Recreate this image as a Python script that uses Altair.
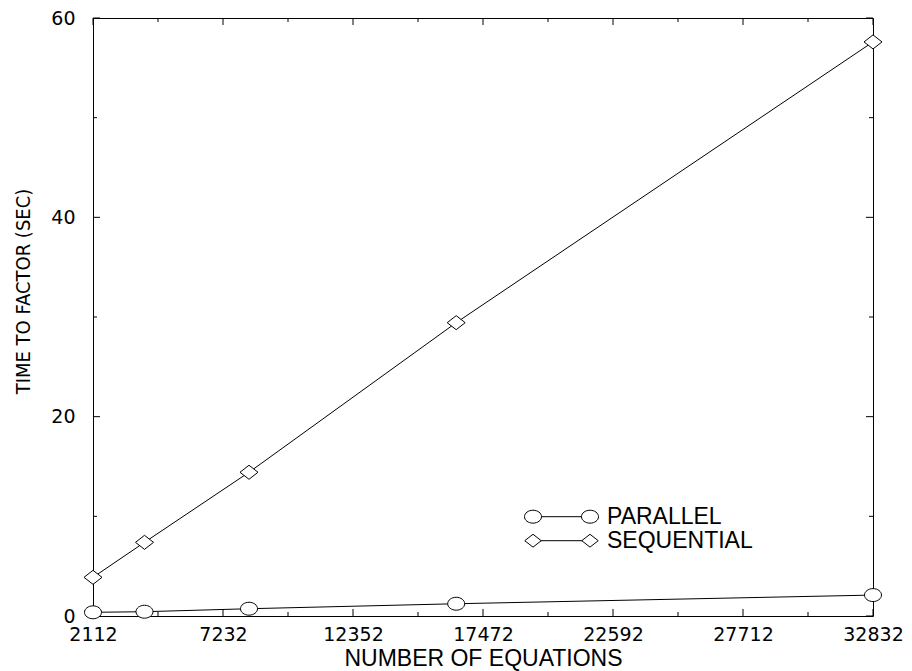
import altair as alt
import pandas as pd

# ---- data ----
equations = [2112, 4140, 8256, 16416, 32832]
parallel = [0.37, 0.43, 0.73, 1.23, 2.10]
sequential = [3.88, 7.39, 14.42, 29.43, 57.60]
x_major = [2112, 7232, 12352, 17472, 22592, 27712, 32832]
x_minor = [4672, 9792, 14912, 20032, 25152, 30272]
y_major = [0, 20, 40, 60]
y_minor = [10, 30, 50]
legend_labels = ["PARALLEL", "SEQUENTIAL"]

W, H = 780, 598
ELLIPSE = "M-1,0A1,0.76 0 1,1 1,0A1,0.76 0 1,1 -1,0Z"
DIAMOND = "M-1,0L0,-0.78L1,0L0,0.78Z"
TICK_FONT = "DejaVu Sans"
TEXT_FONT = "Liberation Sans, Arial, sans-serif"
NARROW_FONT = "Liberation Sans Narrow, Arial Narrow, DejaVu Sans Condensed, Liberation Sans, sans-serif"

xs = alt.Scale(domain=[2112, 32832], nice=False, zero=False)
ys = alt.Scale(domain=[0, 60], nice=False, zero=False)

xaxis = alt.Axis(values=x_major, format="d", ticks=False, grid=False, domain=False,
                 labelFont=TICK_FONT, labelFontSize=19, labelColor="black",
                 labelPadding=9, labelFlush=False, labelOverlap=False, labelBound=False,
                 title="NUMBER OF EQUATIONS", titleFont=TEXT_FONT, titleFontSize=23,
                 titleFontWeight="normal", titleColor="black", titleY=31,
                 titleBaseline="top", titleAlign="center")
yaxis = alt.Axis(values=y_major, ticks=False, grid=False, domain=False,
                 labelFont=TICK_FONT, labelFontSize=19, labelColor="black",
                 labelPadding=18, labelFlush=False, labelOverlap=False, labelBound=False,
                 title="TIME TO FACTOR (SEC)", titleFont=NARROW_FONT, titleFontSize=20,
                 titleFontWeight="normal", titleColor="black", titleAngle=270,
                 titleX=-70, titleY=273, titleAlign="center", titleBaseline="middle")

def X(field):
    return alt.X(field, type="quantitative", scale=xs, axis=xaxis, title="NUMBER OF EQUATIONS")

def Y(field):
    return alt.Y(field, type="quantitative", scale=ys, axis=yaxis, title="TIME TO FACTOR (SEC)")

df_par = pd.DataFrame({"n": equations, "t": parallel})
df_seq = pd.DataFrame({"n": equations, "t": sequential})

layers = []

# inward tick marks on all four sides (drawn beneath the data)
def xticks(vals, length):
    c = alt.Chart(pd.DataFrame({"v": vals}))
    bottom = c.mark_rule(color="black", strokeWidth=1).encode(
        x=X("v"), y=alt.value(H), y2=alt.value(H - length))
    top = c.mark_rule(color="black", strokeWidth=1).encode(
        x=X("v"), y=alt.value(0), y2=alt.value(length))
    return [bottom, top]

def yticks(vals, length):
    c = alt.Chart(pd.DataFrame({"v": vals}))
    left = c.mark_rule(color="black", strokeWidth=1).encode(
        y=Y("v"), x=alt.value(0), x2=alt.value(length))
    right = c.mark_rule(color="black", strokeWidth=1).encode(
        y=Y("v"), x=alt.value(W), x2=alt.value(W - length))
    return [left, right]

layers += xticks(x_major, 7) + xticks(x_minor, 4)
layers += yticks(y_major, 7) + yticks(y_minor, 4)

def series(d, shape, size):
    base = alt.Chart(d).encode(x=X("n"), y=Y("t"))
    line = base.mark_line(color="black", strokeWidth=1)
    pts = base.mark_point(shape=shape, size=size, fill="white", stroke="black",
                          strokeWidth=1, fillOpacity=1, strokeOpacity=1, opacity=1)
    return [line, pts]

layers += series(df_seq, DIAMOND, 324)
layers += series(df_par, ELLIPSE, 289)

# legend (drawn as annotation)
legend_rows = [(legend_labels[0], ELLIPSE, 289, 498.7), (legend_labels[1], DIAMOND, 272, 522.7)]
for label, shape, size, ly in legend_rows:
    c = alt.Chart(pd.DataFrame({"label": [label]}))
    layers.append(c.mark_rule(color="black", strokeWidth=1).encode(
        x=alt.value(440), x2=alt.value(497), y=alt.value(ly)))
    for lx in (440, 497):
        layers.append(c.mark_point(shape=shape, size=size, fill="white", stroke="black",
                                   strokeWidth=1, fillOpacity=1, strokeOpacity=1, opacity=1)
                      .encode(x=alt.value(lx), y=alt.value(ly)))
    layers.append(c.mark_text(align="left", baseline="middle", font=TEXT_FONT,
                              fontSize=23, color="black").encode(
        x=alt.value(514), y=alt.value(ly), text="label:N"))

chart = alt.layer(*layers).properties(
    width=W, height=H,
    autosize=alt.AutoSizeParams(type="none"),
    padding={"left": 85, "top": 10, "right": 31, "bottom": 55},
    background="white",
).configure_view(stroke="black", strokeWidth=1)

chart.save("out.html", embed_options={"renderer": "svg", "actions": False})
